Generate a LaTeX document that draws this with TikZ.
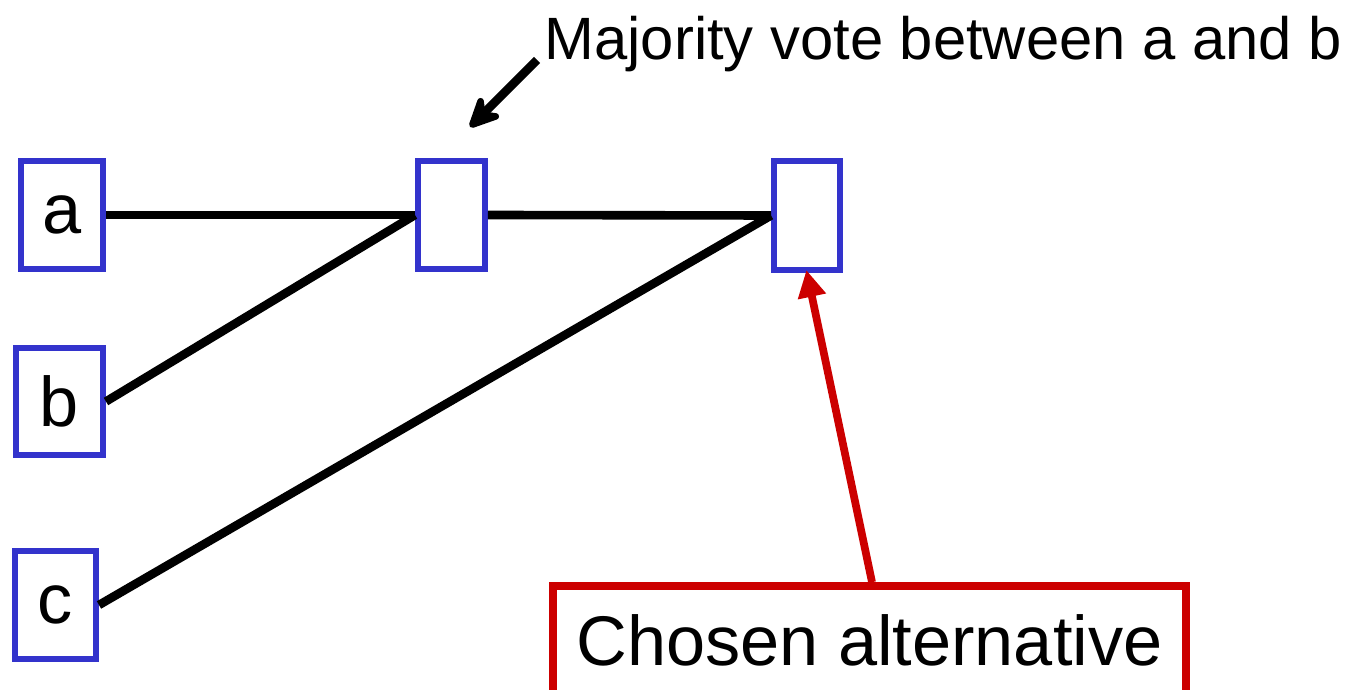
\documentclass[tikz,border=0pt]{standalone}
\usepackage{fontspec}
\setmainfont{Liberation Sans}
\usetikzlibrary{arrows.meta}
\definecolor{voteblue}{RGB}{51,51,204}
\definecolor{chosenred}{RGB}{204,0,0}

\begin{document}
\begin{tikzpicture}
	% Styles
	\tikzset{
		cell/.style={draw=voteblue, line width=1.7pt, inner sep=0pt, minimum width=0.82cm, minimum height=1.08cm, font=\fontsize{20}{24}\selectfont},
		wire/.style={line width=2.45pt, black},
		pointer/.style={-{Stealth[length=0.4cm, width=0.38cm, inset=0.14cm, round]}, line width=2.45pt, black},
		redpointer/.style={-{Triangle[length=0.27cm, width=0.27cm]}, line width=2.2pt, chosenred}
	}
	\useasboundingbox (0,0) rectangle (13.48,6.9);

	% Inputs
	\node[cell] (A) at (0.62, 4.75) {a};
	\node[cell, minimum width=0.87cm, minimum height=1.07cm] (B) at (0.595, 2.885) {b};
	\node[cell, minimum width=0.81cm] (C) at (0.555, 0.85) {c};

	% Voting cells
	\node[cell, minimum width=0.67cm] (Vote) at (4.515, 4.75) {};
	\node[cell, minimum width=0.66cm, minimum height=1.09cm] (Final) at (8.07, 4.745) {};

	% Wires
	\draw[wire] (A.east) -- (Vote.west);
	\draw[wire] (B.east) -- (Vote.west);
	\draw[wire] (Vote.east) -- (Final.west);
	\draw[wire] (C.east) -- (Final.west);

	% Annotation: majority vote
	\node[anchor=base west, inner sep=0pt, font=\fontsize{17}{20}\selectfont] (Majority_Label) at (5.44, 6.30) {Majority vote between a and b};
	\coordinate (VoteTail) at (5.37, 6.30);
	\coordinate (VoteTip) at (4.70, 5.63);
	\draw[pointer] (VoteTail) -- (VoteTip);

	% Annotation: chosen alternative
	\node[draw=chosenred, line width=2.2pt, inner sep=0pt, minimum width=6.33cm, minimum height=1.08cm, font=\fontsize{20}{24}\selectfont] (Chosen) at (8.695, 0.50) {Chosen alternative};
	\draw[redpointer, shorten >=-0.03cm] ([xshift=0.025cm]Chosen.north) -- (Final.south);
\end{tikzpicture}
\end{document}
